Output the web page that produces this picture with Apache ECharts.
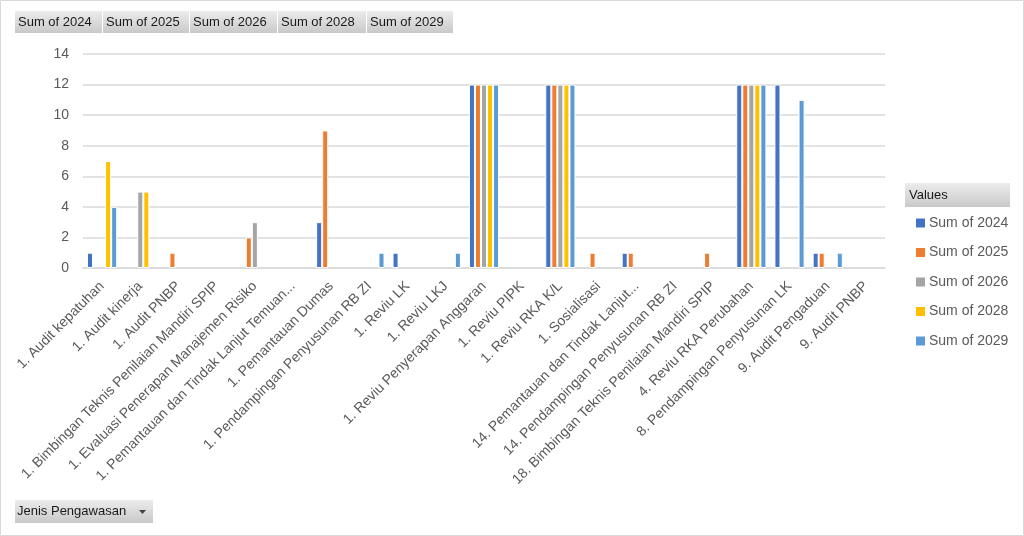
<!DOCTYPE html>
<html><head><meta charset="utf-8">
<script src="https://cdn.jsdelivr.net/npm/echarts@6/dist/echarts.min.js"></script>
<style>html,body{margin:0;padding:0;background:#fff}#c{width:1024px;height:536px}</style>
</head><body><div id="c"></div>
<script>
const categories = [
  "1. Audit kepatuhan","1. Audit kinerja","1. Audit PNBP",
  "1. Bimbingan Teknis Penilaian Mandiri SPIP","1. Evaluasi Penerapan Manajemen Risiko",
  "1. Pemantauan dan Tindak Lanjut Temuan...","1. Pemantauan Dumas",
  "1. Pendampingan Penyusunan RB ZI","1. Reviu LK","1. Reviu LKJ",
  "1. Reviu Penyerapan Anggaran","1. Reviu PIPK","1. Reviu RKA K/L","1. Sosialisasi",
  "14. Pemantauan dan Tindak Lanjut...","14. Pendampingan Penyusunan RB ZI",
  "18. Bimbingan Teknis Penilaian Mandiri SPIP","4. Reviu RKA Perubahan",
  "8. Pendampingan Penyusunan LK","9. Audit Pengaduan","9. Audit PNBP"
];
const seriesNames = ["Sum of 2024","Sum of 2025","Sum of 2026","Sum of 2028","Sum of 2029"];
const sum2024 = [1,null,null,null,null,null,3,null,1,null,12,null,12,null,1,null,null,12,12,1,null];
const sum2025 = [null,null,1,null,2,null,9,null,null,null,12,null,12,1,1,null,1,12,null,1,null];
const sum2026 = [null,5,null,null,3,null,null,null,null,null,12,null,12,null,null,null,null,12,null,null,null];
const sum2028 = [7,5,null,null,null,null,null,null,null,null,12,null,12,null,null,null,null,12,null,null,null];
const sum2029 = [4,null,null,null,null,null,null,1,null,1,12,null,12,null,null,null,null,12,11,1,null];
const yTicks = {min:0, max:14, interval:2};
const colors = ["#4472C4","#ED7D31","#A5A5A5","#FFC000","#5B9BD5"];
const allData = [sum2024,sum2025,sum2026,sum2028,sum2029];

const FONT = "'Liberation Sans', Arial, sans-serif";
const btnFill = {type:'linear',x:0,y:0,x2:0,y2:1,colorStops:[{offset:0,color:'#ececec'},{offset:1,color:'#c9c9c9'}]};
const graphics = [
  {type:'rect', shape:{x:0.5,y:0.5,width:1023,height:535}, style:{fill:'none',stroke:'#d9d9d9',lineWidth:1}, silent:true, z:-10}
];
const btnX = [15,103,190,278,367];
const btnW = [87,86,87,88,86];
seriesNames.forEach((n,i)=>{
  graphics.push({type:'rect', shape:{x:btnX[i],y:11,width:btnW[i],height:22}, style:{fill:btnFill}});
  graphics.push({type:'text', x:btnX[i]+3, y:22, style:{text:n, font:"13px "+FONT, fill:'#1a1a1a', textVerticalAlign:'middle'}});
});
graphics.push({type:'rect', shape:{x:905,y:183,width:105,height:24}, style:{fill:btnFill}});
graphics.push({type:'text', x:909, y:195, style:{text:'Values', font:"13px "+FONT, fill:'#1a1a1a', textVerticalAlign:'middle'}});
graphics.push({type:'rect', shape:{x:15,y:500,width:138,height:23}, style:{fill:btnFill}});
graphics.push({type:'text', x:17, y:511.5, style:{text:'Jenis Pengawasan', font:"13px "+FONT, fill:'#1a1a1a', textVerticalAlign:'middle'}});
graphics.push({type:'polygon', shape:{points:[[139,510],[146,510],[142.5,514]]}, style:{fill:'#444'}});

const chart = echarts.init(document.getElementById('c'), null, {renderer:'canvas'});
chart.setOption({
  animation:false,
  color:colors,
  textStyle:{fontFamily:FONT},
  grid:{left:83, right:139, top:54, bottom:268},
  legend:{
    orient:'vertical', left:911, top:211, itemWidth:9, itemHeight:9, itemGap:15.5,
    icon:'rect', data:seriesNames,
    itemStyle:{borderWidth:0},
    textStyle:{color:'#595959', fontSize:14, fontFamily:FONT, padding:[0,0,0,-1]}
  },
  xAxis:{
    type:'category', data:categories,
    axisLine:{show:true, lineStyle:{color:'#d9d9d9', width:1.5}},
    axisTick:{show:false},
    axisLabel:{interval:0, rotate:45, color:'#595959', fontSize:14, margin:16, fontFamily:FONT}
  },
  yAxis:{
    type:'value', min:yTicks.min, max:yTicks.max, interval:yTicks.interval,
    axisLine:{show:false}, axisTick:{show:false},
    splitLine:{lineStyle:{color:'#d9d9d9', width:1.5}},
    axisLabel:{color:'#595959', fontSize:14, margin:14, fontFamily:FONT}
  },
  series: seriesNames.map((n,i)=>({
    name:n, type:'bar', data:allData[i],
    barGap:'0%', barCategoryGap:'21%',
    itemStyle:{borderColor:'#ffffff', borderWidth:1}
  })),
  graphic:graphics
});
</script></body></html>
